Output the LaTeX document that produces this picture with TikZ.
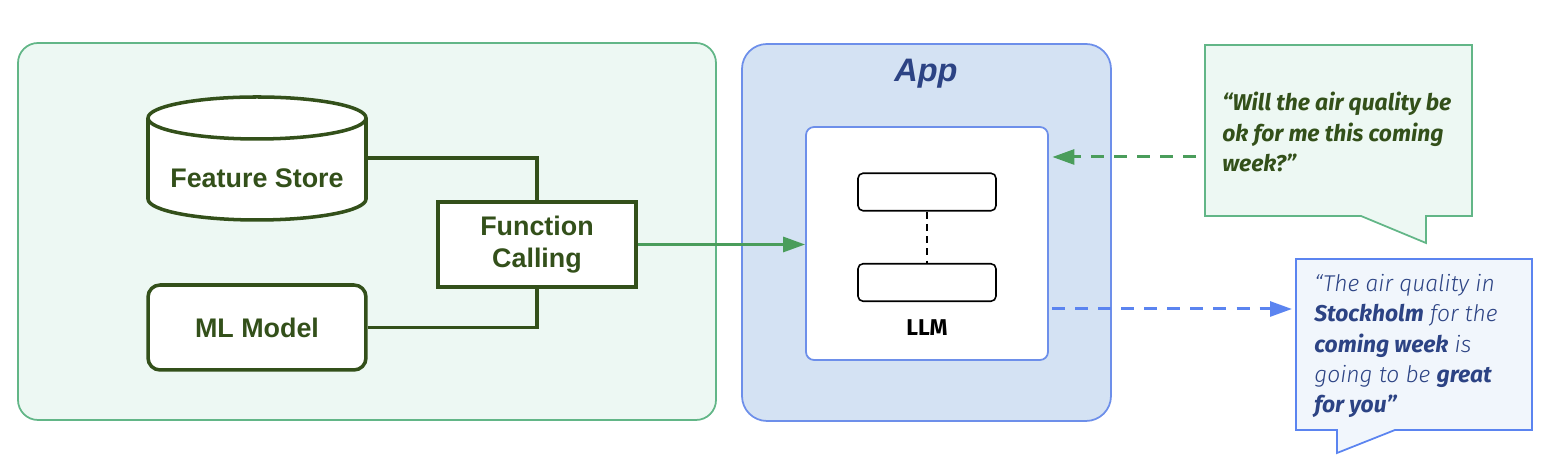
\documentclass[tikz,border=0pt]{standalone}
\usepackage{fontspec}
\setmainfont{Liberation Sans}
\newfontfamily\fira{Fira Sans}
\IfFontExistsTF{Fira Sans Light}{\newfontfamily\firalight{Fira Sans Light}}{\newfontfamily\firalight{Fira Sans}}
\usetikzlibrary{arrows.meta}

\definecolor{panelgreen}{HTML}{EDF8F3}
\definecolor{edgegreen}{HTML}{62B687}
\definecolor{darkgreen}{HTML}{33501A}
\definecolor{arrowgreen}{HTML}{4A9D5B}
\definecolor{panelblue}{HTML}{D4E2F3}
\definecolor{edgeblue}{HTML}{6D8FEA}
\definecolor{darkblue}{HTML}{2C4384}
\definecolor{arrowblue}{HTML}{5B84F0}
\definecolor{bubbleblue}{HTML}{F1F6FC}

\tikzset{
    greenbox/.style = {draw=darkgreen, line width=2pt, fill=white, text=darkgreen,
        font=\fontsize{15.3}{17.8}\selectfont\bfseries, align=center, inner sep=0pt},
    layerbox/.style = {draw=black, line width=0.9pt, rounded corners=0.1cm, fill=white,
        minimum width=2.76cm, minimum height=0.75cm},
    bubbletext/.style = {inner sep=0pt, align=left, anchor=west},
    flow/.style = {line width=1.7pt, -{Triangle[length=12.5pt, width=8.5pt]}},
    dashflow/.style = {flow, dash pattern=on 7.4pt off 5.7pt}
}

\begin{document}
\begin{tikzpicture}[x=0.02cm, y=0.02cm]
    \useasboundingbox (0,0) rectangle (1560,465);

    % panels
    \draw[draw=edgegreen, fill=panelgreen, line width=1pt, rounded corners=0.4cm] (18,45) rectangle (716,422);
    \draw[draw=edgeblue, fill=panelblue, line width=1pt, rounded corners=0.5cm] (742,44) rectangle (1111,421);
    \node[text=darkblue, font=\fontsize{18.5}{20}\selectfont\bfseries\itshape] (app) at (926,391) {App};

    % feature store cylinder
    \draw[darkgreen, line width=2pt, fill=white] (148,347) -- (148,266) arc (180:360:109 and 21) -- (366,347) arc (0:180:109 and 21);
    \draw[darkgreen, line width=2pt] (148,347) arc (180:360:109 and 21);
    \node[greenbox, draw=none, fill=none] (fstore) at (257,287) {Feature Store};
    \coordinate (fstore-e) at (366,307);

    \node[greenbox, rounded corners=0.24cm, minimum width=4.36cm, minimum height=1.7cm] (mlmodel) at (257,137.5) {ML Model};
    \node[greenbox, minimum width=3.96cm, minimum height=1.7cm] (func) at (537,220.5) {Function\\Calling};

    \draw[darkgreen, line width=2pt] (fstore-e) -| (func.north);
    \draw[darkgreen, line width=2pt] (mlmodel.east) -| (func.south);

    % llm
    \node[draw=edgeblue, fill=white, line width=1pt, rounded corners=0.16cm, minimum width=4.84cm, minimum height=4.66cm] (llm) at (927,221.5) {};
    \node[layerbox] (layertop) at (927,273) {};
    \node[layerbox] (layerbot) at (927,182.5) {};
    \draw[black, line width=0.9pt, dash pattern=on 4pt off 3pt] (layertop.south) -- (layerbot.north);
    \node[font=\fira\fontsize{13}{15}\selectfont\bfseries] (llmlabel) at (927,137) {LLM};

    \draw[flow, arrowgreen] (func.east) -- (func.east -| llm.west);

    % question bubble
    \draw[draw=edgegreen, fill=panelgreen, line width=1pt] (1205,249) -- (1361,249) -- (1426,222) -- (1426,249) -- (1472,249) -- (1472,420) -- (1205,420) -- cycle;
    \node[bubbletext, text=darkgreen, font=\fira\fontsize{13}{17.2}\selectfont\bfseries\itshape] (question) at (1222,333)
        {“Will the air quality be\\ok for me this coming\\week?”};
    \coordinate (question-w) at (1196,308);
    \draw[dashflow, arrowgreen] (question-w) -- ([xshift=2pt]llm.east |- question-w);

    % answer bubble
    \draw[draw=arrowblue, fill=bubbleblue, line width=1pt] (1296,35) -- (1337,35) -- (1337,12) -- (1395,35) -- (1532,35) -- (1532,206) -- (1296,206) -- cycle;
    \node[bubbletext, text=darkblue, font=\firalight\fontsize{13}{17.3}\selectfont\itshape] (answer) at (1314,119)
        {“The air quality in\\{\fira\bfseries Stockholm} for the\\{\fira\bfseries coming week} is\\going to be {\fira\bfseries great}\\{\fira\bfseries for you”}};
    \coordinate (answer-w) at (1292,156);
    \draw[dashflow, arrowblue] ([xshift=2pt]llm.east |- answer-w) -- (answer-w);
\end{tikzpicture}
\end{document}
